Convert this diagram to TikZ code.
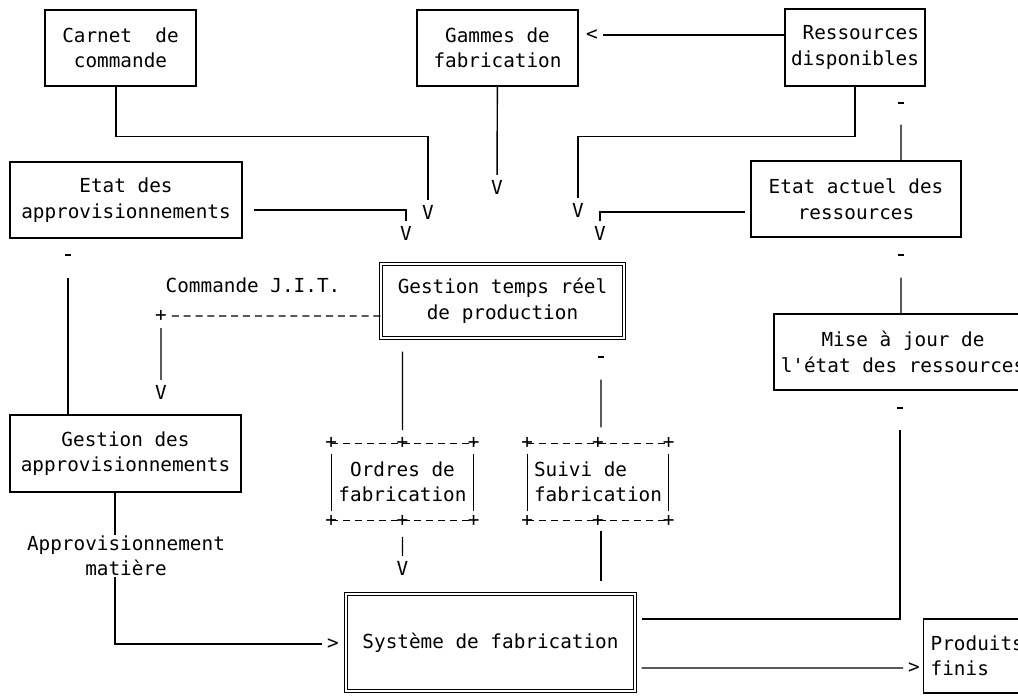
\documentclass[tikz,border=0pt]{standalone}
\usepackage{fontspec}
\setmonofont{DejaVu Sans Mono}

\begin{document}
\begin{tikzpicture}[scale=0.2, line width=0.8pt]
		\tikzstyle{every node}+=[inner sep=0pt, font=\ttfamily\fontsize{11}{14.5}\selectfont]
		\tikzstyle{box}=[draw, align=center]
		\tikzstyle{dbox}=[box, double, double distance=1.4pt, line width=0.6pt]
		\tikzstyle{tip}=[inner sep=2.5pt]
		\tikzstyle{hat}=[fill, minimum width=3pt, minimum height=1pt]
		\tikzstyle{plus}=[inner sep=0pt]
		\tikzstyle{ascii}=[dash pattern=on 4pt off 2.75pt]
		\useasboundingbox (0,0) rectangle (101.8,-69.5);
		% boites
		\node [box, minimum width=3.02cm, minimum height=1.52cm] (carnet) at (12.05,-4.8) {Carnet\ \ de\\commande};
		\node [box, minimum width=3.22cm, minimum height=1.52cm] (gammes) at (49.75,-4.8) {Gammes de\\fabrication};
		\node [box, align=right, minimum width=2.8cm, minimum height=1.54cm] (ressources) at (85.5,-4.75) {Ressources\\disponibles};
		\node [box, minimum width=4.64cm, minimum height=1.52cm] (etatappro) at (12.6,-20.0) {Etat des\\approvisionnements};
		\node [box, minimum width=4.2cm, minimum height=1.52cm] (etatactuel) at (85.6,-19.9) {Etat actuel des\\ressources};
		\node [dbox, minimum width=4.86cm, minimum height=1.48cm] (gestion) at (50.25,-30.1) {Gestion temps réel\\de production};
		\node [box, minimum width=5.16cm, minimum height=1.52cm] (miseajour) at (90.3,-35.2) {Mise à jour de\\l'état des ressources};
		\node [box, minimum width=4.62cm, minimum height=1.54cm] (gestappro) at (12.55,-45.35) {Gestion des\\approvisionnements};
		\node [align=center, minimum width=2.82cm, minimum height=1.52cm] (ordres) at (40.25,-48.2) {Ordres de\\fabrication};
		\node [align=left, minimum width=2.8cm, minimum height=1.52cm] (suivi) at (59.8,-48.2) {Suivi de\\fabrication};
		\node [dbox, minimum width=5.78cm, minimum height=1.94cm] (systeme) at (49.05,-64.25) {Système de fabrication};
		\node [box, anchor=west, align=left, text width=2.2cm, inner xsep=0.14cm, minimum height=1.48cm] (produits) at (92.3,-65.6) {Produits\\finis};
		% textes
		\node (jit) at (25.3,-28.5) {Commande J.I.T.};
		\node [align=center] (appro) at (12.6,-55.6) {Approvisionnement\\matière};
		% pointes
		\node [tip] (v1) at (42.8,-21.2) {V};
		\node [tip] (v2) at (40.6,-23.3) {V};
		\node [tip] (v3) at (49.7,-18.7) {V};
		\node [tip] (v4) at (57.8,-21.0) {V};
		\node [tip] (v5) at (60.0,-23.3) {V};
		\node [tip] (v6) at (16.1,-39.2) {V};
		\node [tip] (v7) at (40.25,-56.8) {V};
		\node [tip] (lt) at (59.2,-3.5) {<};
		\node [tip] (gt1) at (33.3,-64.4) {>};
		\node [tip] (gt2) at (91.4,-66.8) {>};
		\node [hat] (h1) at (90.1,-10.3) {};
		\node [hat] (h2) at (90.1,-25.5) {};
		\node [hat] (h3) at (90.0,-40.8) {};
		\node [hat] (h4) at (6.8,-25.5) {};
		\node [hat] (h5) at (60.1,-35.7) {};
		\node [plus] (p1) at (16.1,-31.6) {+};
		% boites en tirets
		\foreach \b in {ordres,suivi}{
			\draw [ascii] (\b.north west) -- (\b.north east);
			\draw [ascii] (\b.south west) -- (\b.south east);
			\draw ([yshift=-1.1cm]\b.north west) -- ([yshift=1cm]\b.south west);
			\draw ([yshift=-1.1cm]\b.north east) -- ([yshift=1cm]\b.south east);
			\foreach \a [count=\i] in {north west,north,north east,south west,south,south east}
				\node [plus] (\b-\i) at (\b.\a) {+};
		}
		% liaisons (decalages en unites de l'echelle 0.2)
		\draw ([xshift=-0.45cm]carnet.south) -- ++(0,-5) -| (v1);
		\draw ([xshift=1.1cm,yshift=-1cm]etatappro.east) -| (v2);
		\draw (gammes) -- (v3);
		\draw (ressources.south) -- ++(0,-5) -| (v4);
		\draw ([xshift=-0.5cm,yshift=-1.3cm]etatactuel.west) -| (v5);
		\draw (ressources.west |- lt) -- (lt);
		\draw [shorten >=0.4cm] (etatactuel.north -| h1) -- (h1);
		\draw [shorten >=0.42cm] (miseajour.north -| h2) -- (h2);
		\draw [shorten >=0.4cm] ([xshift=0.6cm,yshift=2.35cm]systeme.east) -| (h3);
		\draw [shorten <=0.12cm] (systeme.east |- gt2) -- (gt2);
		\draw [shorten >=0.42cm] (gestappro.north -| h4) -- (h4);
		\draw [ascii] (gestion.west |- p1) -- (p1);
		\draw [shorten <=0.12cm] (p1) -- (v6);
		\draw [shorten <=0.26cm, shorten >=0.14cm] (gestion.south -| ordres-2) -- (ordres-2);
		\draw [shorten <=0.2cm] (ordres-5) -- (v7);
		\draw [shorten <=0.32cm, shorten >=0.42cm] (suivi.north -| h5) -- (h5);
		\draw [shorten <=0.2cm, shorten >=0.24cm] (suivi.south -| h5) -- (systeme.north -| h5);
		\draw ([xshift=-1.05cm]gestappro.south) -- ([xshift=-1.1cm]appro.north);
		\draw ([xshift=-1.1cm]appro.south) |- (gt1);
	\end{tikzpicture}
\end{document}
